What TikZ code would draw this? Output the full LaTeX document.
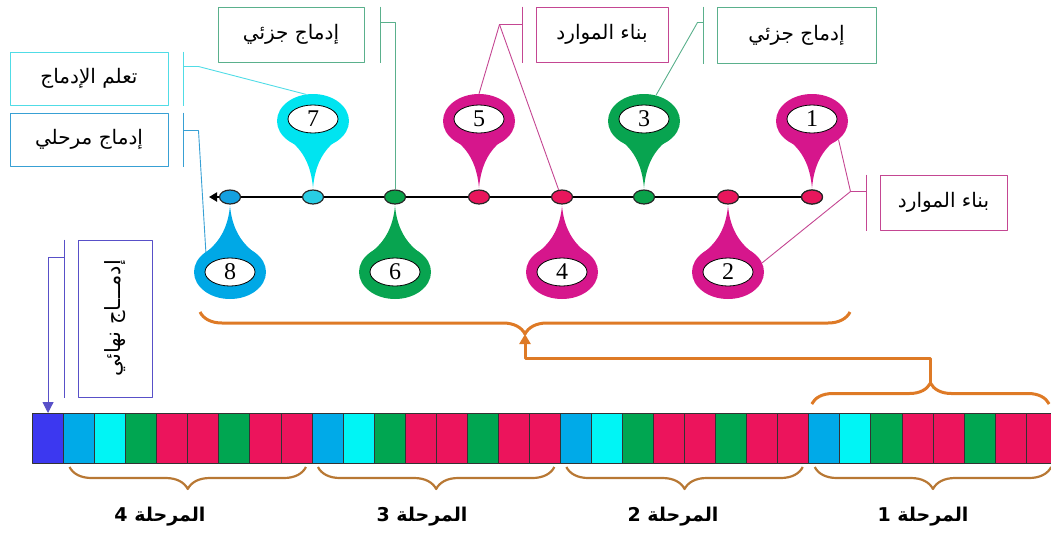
\documentclass[tikz,border=0pt]{standalone}
\usepackage{graphicx}
\usepackage{fontspec}
\setmainfont{Liberation Serif}
\newfontfamily\arabicfont[Script=Arabic]{DejaVu Sans}
\TeXXeTstate=1
\usetikzlibrary{decorations.pathreplacing,arrows.meta,calc,shapes.geometric}

% pin heads
\definecolor{pinMag}{RGB}{214,22,140}
\definecolor{pinGreen}{RGB}{8,164,80}
\definecolor{pinCyan}{RGB}{0,228,240}
\definecolor{pinBlue}{RGB}{0,168,230}
% timeline dots
\definecolor{dotRed}{RGB}{232,22,92}
\definecolor{dotGreen}{RGB}{10,162,74}
\definecolor{dotCyan}{RGB}{40,205,228}
\definecolor{dotBlue}{RGB}{20,160,224}
% bar cells
\definecolor{cellPurple}{RGB}{60,56,240}
\definecolor{cellBlue}{RGB}{0,170,232}
\definecolor{cellCyan}{RGB}{0,245,245}
\definecolor{cellGreen}{RGB}{0,166,81}
\definecolor{cellRed}{RGB}{236,20,92}
% braces
\definecolor{braceOrange}{RGB}{222,122,38}
\definecolor{braceBrown}{RGB}{184,120,52}
% label frames and leader lines
\definecolor{lineGreen}{RGB}{90,176,140}
\definecolor{lineCyan}{RGB}{80,220,230}
\definecolor{lineBlue}{RGB}{56,160,212}
\definecolor{linePink}{RGB}{196,70,146}
\definecolor{lineIndigo}{RGB}{88,80,200}

\tikzset{
  lbl/.style={draw=#1, line width=1pt, fill=white, inner sep=0pt,
    font=\arabicfont\fontsize{20}{24}\selectfont},
  leader/.style={draw=#1, line width=0.9pt},
  head/.style={ellipse, fill=#1, minimum width=72pt, minimum height=54pt, inner sep=0pt},
  numtag/.style={ellipse, draw=black, line width=0.8pt, fill=white,
    minimum width=50pt, minimum height=28pt, inner sep=0pt,
    font=\fontsize{24}{24}\selectfont},
  dotn/.style={ellipse, draw=black!85, line width=1.2pt, fill=#1,
    minimum width=21pt, minimum height=14pt, inner sep=0pt},
  cell/.style={draw=black!80, line width=0.8pt, fill=#1, minimum width=31.05pt,
    minimum height=50pt, inner sep=0pt, outer sep=0pt, anchor=north west},
  stagebrace/.style={draw=braceBrown, line width=2.2pt, decorate,
    decoration={brace, amplitude=22pt}},
  bigbrace/.style={draw=braceOrange, line width=3pt, decorate,
    decoration={brace, amplitude=#1}},
  stagelbl/.style={font=\arabicfont\bfseries\fontsize{19}{22}\selectfont},
}

\begin{document}
\begin{tikzpicture}[x=1pt, y=-1pt, line join=round]
\useasboundingbox (0,0) rectangle (1051,539);
\clip (0,0) rectangle (1051,539);

% ---------- label boxes ----------
\node[lbl=lineGreen, minimum width=146pt, minimum height=55pt] (bA) at (291,34.5) {\beginR إدماج جزئي\endR};
\node[lbl=lineCyan,  minimum width=158pt, minimum height=53pt] (bB) at (89,78.5) {\beginR تعلم الإدماج\endR};
\node[lbl=lineBlue,  minimum width=158pt, minimum height=53pt] (bC) at (89,139.5) {\beginR إدماج مرحلي\endR};
\node[lbl=linePink,  minimum width=132pt, minimum height=55pt] (bD) at (602,34.5) {\beginR بناء الموارد\endR};
\node[lbl=lineGreen, minimum width=159pt, minimum height=56pt] (bE) at (796.5,35) {\beginR إدماج جزئي\endR};
\node[lbl=linePink,  minimum width=127pt, minimum height=55pt] (bF) at (943.5,202.5) {\beginR بناء الموارد\endR};
\node[lbl=lineIndigo, minimum width=74pt, minimum height=157pt] (bG) at (115,318.5)
  {\rotatebox{90}{\fontsize{21}{24}\selectfont\beginR إدمـــاج نهائي\endR}};

% ---------- timeline ----------
\coordinate (tlend) at (209,197);
\node[dotn=dotRed] (d1) at (812,197) {};
\draw[line width=2pt, -{Triangle[length=8pt,width=9pt]}] (d1.center) -- (tlend);
\foreach \n/\x/\c in {1/812/dotRed,2/728/dotRed,3/644/dotGreen,4/562/dotRed,
                      5/479/dotRed,6/395/dotGreen,7/313/dotCyan,8/230/dotBlue}{
  \node[dotn=\c] (d\n) at (\x,197) {};
}

% ---------- pins above the line ----------
\foreach \n/\x/\c in {1/812/pinMag,3/644/pinGreen,5/479/pinMag,7/313/pinCyan}{
  \fill[\c] (\x-25,139) .. controls (\x-10,150) and (\x-2,165) .. (\x,188)
            .. controls (\x+2,165) and (\x+10,150) .. (\x+25,139) -- cycle;
  \node[head=\c] (pin\n) at (\x,121) {};
  \node[numtag] (num\n) at (\x,119) {\n};
}
% ---------- pins below the line ----------
\foreach \n/\x/\c in {2/728/pinMag,4/562/pinMag,6/395/pinGreen,8/230/pinBlue}{
  \fill[\c] (\x-25,253) .. controls (\x-10,242) and (\x-2,227) .. (\x,206)
            .. controls (\x+2,227) and (\x+10,242) .. (\x+25,253) -- cycle;
  \node[head=\c] (pin\n) at (\x,272) {};
  \node[numtag] (num\n) at (\x,272) {\n};
}

% ---------- brackets and leader lines ----------
% top-left: partial integration -> dot 6
\draw[leader=lineGreen] ($(bA.north east)+(16,0)$) -- ($(bA.south east)+(16,0)$);
\draw[leader=lineGreen] ($(bA.north east)+(16,16)$) -| (d6.north);
% learning integration -> pin 7
\draw[leader=lineCyan] ($(bB.north east)+(15,0)$) -- ($(bB.south east)+(15,0)$);
\draw[leader=lineCyan] ($(bB.north east)+(15,15)$) -- ++(15,0) -- (pin7.105);
% stage integration -> pin 8
\draw[leader=lineBlue] ($(bC.north east)+(15,0)$) -- ($(bC.south east)+(15,0)$);
\draw[leader=lineBlue] ($(bC.north east)+(15,18)$) -- ++(15,0) -- (pin8.140);
% resource building (top) -> pin 5 and dot 4
\draw[leader=linePink] ($(bD.north west)+(-13,0)$) -- ($(bD.south west)+(-13,0)$);
\draw[leader=linePink] ($(bD.north west)+(-13,18)$) -- ++(-23,0) coordinate (jD) -- (pin5.north);
\draw[leader=linePink] (jD) -- (d4.115);
% partial integration (right) -> pin 3
\draw[leader=lineGreen] ($(bE.north west)+(-13,0)$) -- ($(bE.south west)+(-13,0)$);
\draw[leader=lineGreen] ($(bE.north west)+(-13,16)$) -- ++(-6,0) -- (pin3.65);
% resource building (right) -> pins 1 and 2
\draw[leader=linePink] ($(bF.north west)+(-13,0)$) -- ($(bF.south west)+(-13,0)$);
\draw[leader=linePink] ($(bF.north west)+(-13,17)$) -- ++(-16,0) coordinate (jF) -- (pin1.-35);
\draw[leader=linePink] (jF) -- (pin2.15);

% ---------- bar of cells ----------
\node[cell=cellPurple] (c0) at (32.5,413) {};
\foreach \s in {0,...,3}{
  \foreach \j/\col in {0/cellBlue,1/cellCyan,2/cellGreen,3/cellRed,
                       4/cellRed,5/cellGreen,6/cellRed,7/cellRed}{
    \pgfmathtruncatemacro\k{1+8*\s+\j}
    \node[cell=\col] (c\k) at ({32.5+\k*31.05},413) {};
  }
}

% final integration -> first cell
\draw[leader=lineIndigo] ($(bG.north west)+(-13,0)$) -- ($(bG.south west)+(-13,0)$);
\draw[leader=lineIndigo, line width=1pt, -{Triangle[length=11pt,width=11pt]}]
  ($(bG.north west)+(-13,18)$) -| (c0.north);

% ---------- stage braces ----------
\foreach \a/\b/\t/\lx in {1/8/4/160,9/16/3/422,17/24/2/673,25/32/1/923}{
  \draw[stagebrace] ($(c\b.south east)+(-6,4)$) -- ($(c\a.south west)+(6,4)$);
  \node[stagelbl] (st\t) at (\lx,517) {\beginR المرحلة \t\endR};
}

% ---------- brace over the first stage and brace under the timeline ----------
\coordinate (tbL) at ($(c25.north west)+(3,-9)$);
\coordinate (tbR) at ($(c32.north east)+(-8,-9)$);
\draw[bigbrace=21pt] (tbL) -- (tbR);
\coordinate (tbC) at ($(tbL)!0.5!(tbR)+(0,-21)$);

\coordinate (bbL) at (200,312);
\coordinate (bbR) at (850,312);
\draw[bigbrace=22pt] (bbR) -- (bbL);
\coordinate (bbC) at ($(bbL)!0.5!(bbR)+(0,22)$);

\draw[draw=braceOrange, line width=3pt, -{Triangle[length=10pt,width=11pt]}]
  (tbC) |- ($(bbC)+(0,24)$) -- (bbC);
\end{tikzpicture}
\end{document}
